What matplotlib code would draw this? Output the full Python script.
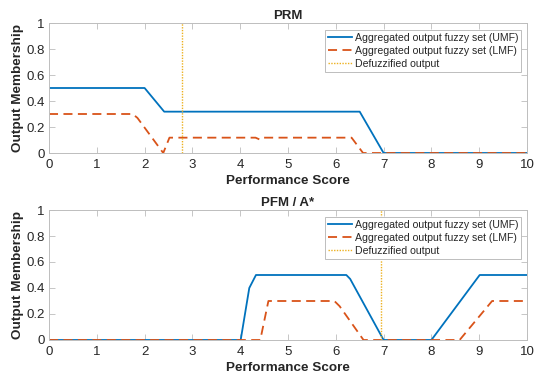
import matplotlib
matplotlib.use("Agg")
import matplotlib.pyplot as plt

plt.rcParams['font.family'] = ['Liberation Sans', 'DejaVu Sans']

# ---- Data ----
prm_umf_x = [0, 2.0, 2.41, 6.5, 7.0, 10]
prm_umf_y = [0.5, 0.5, 0.318, 0.318, 0.0, 0.0]
prm_lmf_x = [0, 1.75, 1.85, 2.39, 2.52, 4.32, 4.42, 4.5, 6.33, 6.57, 10]
prm_lmf_y = [0.3, 0.3, 0.27, 0.0, 0.118, 0.118, 0.102, 0.118, 0.118, 0.0, 0.0]
prm_defuzz = 2.79

pfm_umf_x = [0, 4.01, 4.19, 4.33, 6.22, 6.3, 7.0, 8.0, 9.01, 10]
pfm_umf_y = [0, 0.0, 0.40, 0.5, 0.5, 0.47, 0.0, 0.0, 0.5, 0.5]
pfm_lmf_x = [0, 4.42, 4.59, 5.97, 6.08, 6.58, 8.59, 9.27, 10]
pfm_lmf_y = [0, 0.0, 0.3, 0.3, 0.26, 0.0, 0.0, 0.3, 0.3]
pfm_defuzz = 6.95

titles = ["PRM", "PFM / A*"]
xticks = list(range(0, 11))
yticks = [0, 0.2, 0.4, 0.6, 0.8, 1]
ytick_labels = ["0", "0.2", "0.4", "0.6", "0.8", "1"]
legend_labels = ["Aggregated output fuzzy set (UMF)",
                 "Aggregated output fuzzy set (LMF)",
                 "Defuzzified output"]

C_UMF = "#0072BD"
C_LMF = "#D95319"
C_DEF = "#EDB120"
TXT = "#262626"
AX = "#bdbdbd"

fig = plt.figure(figsize=(5.5, 3.86), dpi=100)
W, H = 550, 386
positions = [
    (49 / W, 1 - 153 / H, (527 - 49) / W, 130 / H),
    (49 / W, 1 - 340 / H, (527 - 49) / W, 130 / H),
]

data = [
    (prm_umf_x, prm_umf_y, prm_lmf_x, prm_lmf_y, prm_defuzz),
    (pfm_umf_x, pfm_umf_y, pfm_lmf_x, pfm_lmf_y, pfm_defuzz),
]

for pos, title, (ux, uy, lx, ly, d) in zip(positions, titles, data):
    ax = fig.add_axes(pos)
    ax.plot(ux, uy, color=C_UMF, lw=1.3, label=legend_labels[0])
    ax.plot(lx, ly, color=C_LMF, lw=1.3, dashes=(5, 3), label=legend_labels[1])
    ax.axvline(d, color=C_DEF, lw=1.0, linestyle=(0, (1, 1)), label=legend_labels[2])
    ax.set_xlim(0, 10)
    ax.set_ylim(0, 1)
    ax.set_xticks(xticks)
    ax.set_yticks(yticks)
    ax.set_yticklabels(ytick_labels)
    ax.tick_params(direction='in', top=True, right=True, length=4, width=0.6,
                   color=AX, labelcolor=TXT, labelsize=9.5)
    ax.tick_params(axis='x', pad=4)
    ax.tick_params(axis='y', pad=3)
    for s in ax.spines.values():
        s.set_color(AX)
        s.set_linewidth(0.7)
    ax.set_title(title, fontsize=9.5, fontweight='bold', color=TXT, pad=3)
    ax.set_xlabel("Performance Score", fontsize=9.7, fontweight='bold', color=TXT, labelpad=3)
    ax.set_ylabel("Output Membership", fontsize=9.7, fontweight='bold', color=TXT, labelpad=2)
    leg = ax.legend(loc='upper right', bbox_to_anchor=(0.988, 0.95), fontsize=7.6,
                    frameon=True, fancybox=False, edgecolor=AX, framealpha=1,
                    handlelength=2.3, handletextpad=0.25, borderpad=0.3,
                    labelspacing=0.3, borderaxespad=0)
    leg.get_frame().set_linewidth(0.7)
    for t in leg.get_texts():
        t.set_color(TXT)

fig.savefig("out.png", dpi=100)
